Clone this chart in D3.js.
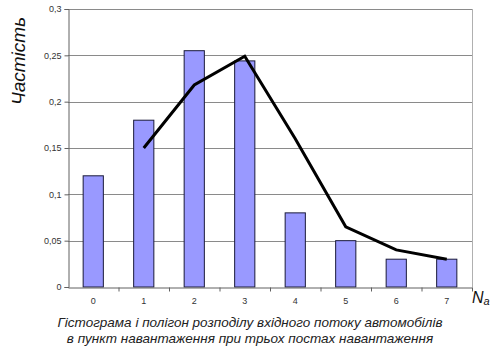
<!DOCTYPE html>
<html lang="uk">
<head>
<meta charset="UTF-8">
<title>Гістограма і полігон</title>
<style>
  body { margin: 0; background: #fff; }
  svg { display: block; font-family: "Liberation Sans", Arial, sans-serif; }
</style>
</head>
<body>
<svg width="493" height="347"></svg>
<script src="https://d3js.org/d3.v7.min.js"></script>
<script>
// data
const categories = [0, 1, 2, 3, 4, 5, 6, 7];
const barValues = [0.12, 0.18, 0.255, 0.244, 0.08, 0.05, 0.03, 0.03];
const polyCats = [1, 2, 3, 4, 5, 6, 7];
const polyValues = [0.15, 0.218, 0.249, 0.16, 0.065, 0.04, 0.03];
const yTicks = [0, 0.05, 0.1, 0.15, 0.2, 0.25, 0.3];
const captionLines = [
  "Гістограма і полігон розподілу вхідного потоку автомобілів",
  "в пункт навантаження при трьох постах навантаження"
];

const svg = d3.select("svg");
const plotL = 68, plotR = 472, plotT = 9, plotB = 287;

let x = d3.scaleBand().domain(categories).range([plotL, plotR]).paddingInner(0).paddingOuter(0);
let y = d3.scaleLinear().domain([0, 0.3]).range([plotB, plotT]);
let fmt = d => d === 0 ? "0" : String(d).replace(".", ",");

// gridlines
svg.append("g").selectAll("line")
  .data(yTicks.filter(d => d > 0))
  .join("line")
  .attr("x1", plotL).attr("x2", plotR)
  .attr("y1", d => Math.round(y(d)) + 0.5).attr("y2", d => Math.round(y(d)) + 0.5)
  .attr("stroke", "#8a8a8a").attr("stroke-width", 1);

// right border of the plot area
svg.append("line")
  .attr("x1", plotR + 0.5).attr("x2", plotR + 0.5)
  .attr("y1", plotT).attr("y2", plotB)
  .attr("stroke", "#b0b0b0");

// bars
let barW = x.bandwidth() * 0.4;
svg.append("g").selectAll("rect")
  .data(categories)
  .join("rect")
  .attr("x", d => x(d) + (x.bandwidth() - barW) / 2)
  .attr("y", (d, i) => y(barValues[i]))
  .attr("width", barW)
  .attr("height", (d, i) => y(0) - y(barValues[i]))
  .attr("fill", "#9999ff")
  .attr("stroke", "#1a1a3a")
  .attr("stroke-width", 1);

// polygon line
let line = d3.line()
  .x((d, i) => x(polyCats[i]) + x.bandwidth() / 2)
  .y(d => y(d));
svg.append("path")
  .datum(polyValues)
  .attr("d", line)
  .attr("fill", "none")
  .attr("stroke", "#000")
  .attr("stroke-width", 3)
  .attr("stroke-linejoin", "miter");

// y axis
let yAxis = d3.axisLeft(y).tickValues(yTicks).tickFormat(fmt).tickSize(4).tickPadding(3);
let gy = svg.append("g").attr("transform", `translate(${plotL + 0.5},0)`).call(yAxis);
gy.select(".domain").attr("stroke", "#606060");
gy.selectAll(".tick line").attr("stroke", "#606060");
gy.selectAll("text").attr("font-size", 9).attr("fill", "#333");

// x axis: ticks at band boundaries
let xAxis = d3.axisBottom(x).tickSize(0).tickPadding(10);
let gx = svg.append("g").attr("transform", `translate(0,${plotB + 0.5})`).call(xAxis);
gx.select(".domain").attr("stroke", "#606060");
gx.selectAll("text").attr("font-size", 9).attr("fill", "#333");
gx.selectAll(".bound")
  .data(categories.slice(1).concat([8]))
  .join("line")
  .attr("class", "bound")
  .attr("x1", d => (d < 8 ? x(d) : plotR) + 0.5)
  .attr("x2", d => (d < 8 ? x(d) : plotR) + 0.5)
  .attr("y1", 0).attr("y2", 4)
  .attr("stroke", "#606060");

// axis titles
svg.append("text")
  .attr("transform", "translate(25,61) rotate(-90)")
  .attr("text-anchor", "middle")
  .attr("font-size", 19)
  .attr("font-style", "italic")
  .attr("fill", "#111")
  .text("Частість");

let na = svg.append("text")
  .attr("x", 472).attr("y", 303)
  .attr("font-size", 16)
  .attr("font-style", "italic")
  .attr("fill", "#111");
na.append("tspan").text("N");
na.append("tspan").attr("font-size", 11).attr("dy", 2).text("a");

// caption
svg.append("g").selectAll("text")
  .data(captionLines)
  .join("text")
  .attr("x", 250)
  .attr("y", (d, i) => 327 + i * 16)
  .attr("text-anchor", "middle")
  .attr("font-size", 13.5)
  .attr("font-style", "italic")
  .attr("fill", "#222")
  .text(d => d);
</script>
</body>
</html>
